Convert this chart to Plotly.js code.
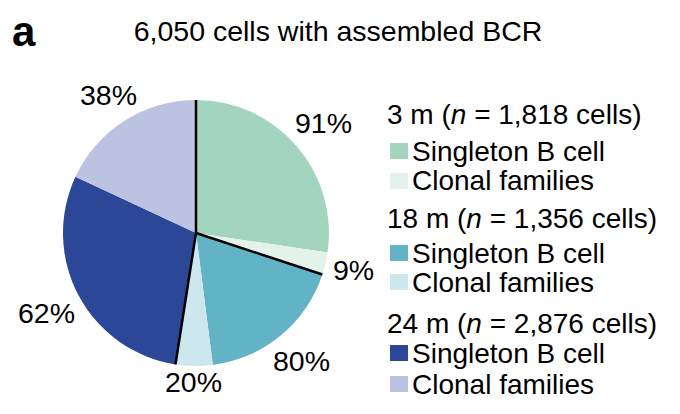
<!DOCTYPE html>
<html>
<head>
<meta charset="utf-8">
<script src="https://cdn.plot.ly/plotly-3.0.1.min.js"></script>
<style>html,body{margin:0;padding:0;background:#fff;}#chart{width:680px;height:414px;}</style>
</head>
<body>
<div id="chart"></div>
<script>
// ---- data ----
var groups = ["3 m", "18 m", "24 m"];
var groupCells = [1818, 1356, 2876];
var groupHeaders = ["3 m (<i>n</i> = 1,818 cells)", "18 m (<i>n</i> = 1,356 cells)", "24 m (<i>n</i> = 2,876 cells)"];
var subCategories = ["Singleton B cell", "Clonal families"];
var singletonPct = [91, 80, 62];
var clonalPct = [9, 20, 38];
var sliceColors = ["#a3d4bf", "#e4f2ec", "#62b3c5", "#cce8ee", "#2c4798", "#bcc3e0"];
var titleText = "6,050 cells with assembled BCR";

// ---- build slices ----
var values = [], texts = [], labels = [];
for (var g = 0; g < groups.length; g++) {
  values.push(groupCells[g] * singletonPct[g] / 100);
  values.push(groupCells[g] * clonalPct[g] / 100);
  texts.push(singletonPct[g] + "%");
  texts.push(clonalPct[g] + "%");
  labels.push(groups[g] + " " + subCategories[0]);
  labels.push(groups[g] + " " + subCategories[1]);
}

var W = 680, H = 414;
var cx = 196, cy = 233, R = 133; // pie placement in pixels
var FONT = "Liberation Sans, Arial, Helvetica, sans-serif";
var FS = 28;
var LFS = 28.5;

var trace = {
  type: "pie",
  values: values,
  labels: labels,
  textinfo: "none",
  marker: {colors: sliceColors, line: {width: 0}},
  sort: false,
  direction: "clockwise",
  rotation: 0,
  showlegend: false,
  hoverinfo: "label+value",
  domain: {x: [(cx - R) / W, (cx + R) / W], y: [(H - cy - R) / H, (H - cy + R) / H]}
};

var total = values.reduce(function(a, b){ return a + b; }, 0);
var shapes = [];
var annotations = [];

// group boundary lines computed from data
var cum = 0;
for (var g = 0; g < groups.length; g++) {
  var th = 2 * Math.PI * cum / total;
  shapes.push({
    type: "line", xref: "paper", yref: "paper",
    x0: cx / W, y0: (H - cy) / H,
    x1: (cx + R * Math.sin(th)) / W, y1: (H - cy + R * Math.cos(th)) / H,
    line: {color: "#000", width: 2.5}
  });
  cum += values[2 * g] + values[2 * g + 1];
}

// outside percentage labels, placed along each slice's mid-angle
cum = 0;
for (var i = 0; i < values.length; i++) {
  var mid = 2 * Math.PI * (cum + values[i] / 2) / total;
  cum += values[i];
  var sx = Math.sin(mid), sy = Math.cos(mid); // sy: up positive
  var nd = texts[i].length - 1;
  var hw = LFS * (0.556 * nd + 0.889) / 2, hh = LFS * 0.716 / 2 + 2;
  var target = R + 6;
  var a = Math.abs(sx), b = Math.abs(sy);
  var B = 2 * (a * hw + b * hh), C = hw * hw + hh * hh - target * target;
  var t = (B + Math.sqrt(B * B - 4 * C)) / 2;
  var px = cx + t * sx, py = (H - cy) + t * sy;
  annotations.push({
    xref: "paper", yref: "paper", x: px / W, y: py / H,
    xanchor: "center", yanchor: "middle", showarrow: false,
    text: texts[i], font: {family: FONT, size: LFS, color: "#000"}
  });
}

// custom legend
var headerY = [114, 218, 323];
var rowY = [[151, 181], [253, 282], [353, 384]];
for (var g = 0; g < groups.length; g++) {
  annotations.push({
    xref: "paper", yref: "paper", x: 385 / W, y: 1 - headerY[g] / H,
    xanchor: "left", yanchor: "middle", showarrow: false,
    text: groupHeaders[g], font: {family: FONT, size: FS, color: "#000"}
  });
  for (var k = 0; k < 2; k++) {
    var yc = rowY[g][k];
    shapes.push({
      type: "rect", xref: "paper", yref: "paper",
      x0: 390 / W, x1: 408 / W, y0: 1 - (yc + 8) / H, y1: 1 - (yc - 8) / H,
      fillcolor: sliceColors[g * 2 + k], line: {width: 0}
    });
    annotations.push({
      xref: "paper", yref: "paper", x: 410 / W, y: 1 - yc / H,
      xanchor: "left", yanchor: "middle", showarrow: false,
      text: subCategories[k], font: {family: FONT, size: FS, color: "#000"}
    });
  }
}
annotations.push({
  xref: "paper", yref: "paper", x: 10 / W, y: 1 - 31 / H,
  xanchor: "left", yanchor: "middle", showarrow: false,
  text: "<b>a</b>", font: {family: FONT, size: 42, color: "#000"}
});

var layout = {
  width: W, height: H,
  margin: {l: 0, r: 0, t: 0, b: 0},
  paper_bgcolor: "#fff",
  title: {text: titleText, x: 338 / W, xanchor: "center", y: 1 - 31 / H, yanchor: "middle",
          font: {family: FONT, size: 28.5, color: "#000"}},
  shapes: shapes,
  annotations: annotations
};

Plotly.newPlot("chart", [trace], layout, {displayModeBar: false, staticPlot: true});
</script>
</body>
</html>
